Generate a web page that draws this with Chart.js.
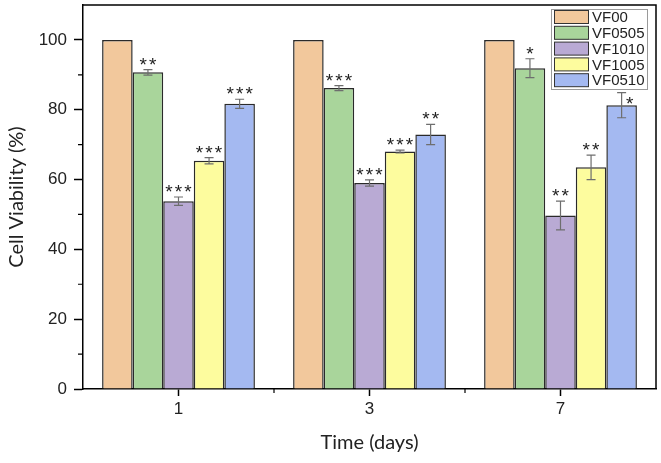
<!DOCTYPE html>
<html>
<head>
<meta charset="utf-8">
<script src="https://cdn.jsdelivr.net/npm/chart.js@4.4.1/dist/chart.umd.min.js"></script>
<style>
html,body{margin:0;padding:0;background:#fff;}
canvas{display:block;}
</style>
</head>
<body>
<canvas id="c" width="661" height="463"></canvas>
<script>
// ---- data ----
const categories = ['1', '3', '7'];
const seriesNames = ['VF00', 'VF0505', 'VF1010', 'VF1005', 'VF0510'];
const vf00   = [100, 100, 100];
const vf0505 = [90.7, 86.2, 91.9];
const vf1010 = [53.8, 59.0, 49.7];
const vf1005 = [65.4, 68.0, 63.5];
const vf0510 = [81.7, 72.9, 81.3];
const err00   = [0, 0, 0];
const err0505 = [0.8, 0.7, 2.7];
const err1010 = [1.2, 0.9, 4.1];
const err1005 = [0.9, 0.4, 3.5];
const err0510 = [1.3, 2.9, 3.6];
const stars00   = ['', '', ''];
const stars0505 = ['**', '***', '*'];
const stars1010 = ['***', '***', '**'];
const stars1005 = ['***', '***', '**'];
const stars0510 = ['***', '**', '*'];
const yTickValues = [0, 20, 40, 60, 80, 100];
const yMinorValues = [10, 30, 50, 70, 90];

const colors = ['#F2C89C', '#A9D59B', '#B9AAD4', '#FDFC9E', '#A4B9F1'];
const values = [vf00, vf0505, vf1010, vf1005, vf0510];
const errors = [err00, err0505, err1010, err1005, err0510];
const stars = [stars00, stars0505, stars1010, stars1005, stars0510];

const datasets = seriesNames.map((n, i) => ({
  label: n,
  data: values[i],
  errors: errors[i],
  stars: stars[i],
  backgroundColor: colors[i],
  borderColor: '#2a2a2a',
  borderWidth: 1.5,
  categoryPercentage: 0.8,
  barPercentage: 1.0
}));

const LEG = { x: 551, y: 9, w: 96, h: 80 };

const decorPlugin = {
  id: 'decor',
  beforeDatasetsDraw(chart) {
    const ctx = chart.ctx;
    ctx.save();
    ctx.fillStyle = '#fff';
    ctx.fillRect(LEG.x, LEG.y, LEG.w, LEG.h);
    ctx.strokeStyle = '#9a9a9a';
    ctx.lineWidth = 1;
    ctx.strokeRect(LEG.x + 0.5, LEG.y + 0.5, LEG.w, LEG.h);
    chart.data.datasets.forEach((ds, i) => {
      const cy = 17 + i * 15.8;
      ctx.fillStyle = ds.backgroundColor;
      ctx.fillRect(554, cy - 6.5, 34, 13);
      ctx.strokeStyle = '#333';
      ctx.lineWidth = 1;
      ctx.strokeRect(554.5, cy - 6.5, 34, 13);
      ctx.fillStyle = '#222';
      ctx.font = '15px "Liberation Sans", Arial, sans-serif';
      ctx.textAlign = 'left';
      ctx.textBaseline = 'middle';
      ctx.fillText(ds.label, 592, cy + 1);
    });
    ctx.restore();
  },
  afterDatasetsDraw(chart) {
    const ctx = chart.ctx;
    const y = chart.scales.y;
    ctx.save();
    chart.data.datasets.forEach((ds, di) => {
      const meta = chart.getDatasetMeta(di);
      meta.data.forEach((el, i) => {
        const v = ds.data[i], e = ds.errors[i];
        const cx = el.x;
        const yt = y.getPixelForValue(v + e);
        const yb = y.getPixelForValue(v - e);
        if (e > 0) {
          ctx.strokeStyle = '#6e6e6e';
          ctx.lineWidth = 1.2;
          ctx.beginPath();
          ctx.moveTo(cx, yt); ctx.lineTo(cx, yb);
          ctx.moveTo(cx - 4.5, yt); ctx.lineTo(cx + 4.5, yt);
          ctx.moveTo(cx - 4.5, yb); ctx.lineTo(cx + 4.5, yb);
          ctx.stroke();
        }
        const s = ds.stars[i];
        if (s) {
          ctx.fillStyle = '#222';
          ctx.font = '19px "Liberation Sans", Arial, sans-serif';
          ctx.textAlign = 'center';
          ctx.textBaseline = 'alphabetic';
          const n = s.length;
          let bx = cx, by = yt + 1;
          // avoid the legend box: put the marks beside the error bar
          if (by - 14 < LEG.y + LEG.h && cx > LEG.x && cx < LEG.x + LEG.w) {
            bx = cx + 8 + (n - 1) * 4.75;
            by = yt + 17;
          }
          for (let k = 0; k < n; k++) {
            ctx.fillText('*', bx + (k - (n - 1) / 2) * 9.5, by);
          }
        }
      });
    });
    ctx.restore();
  },
  afterDraw(chart) {
    const ctx = chart.ctx;
    const y = chart.scales.y;
    const x = chart.scales.x;
    const ca = chart.chartArea;
    ctx.save();
    ctx.strokeStyle = '#000';
    ctx.lineWidth = 1.5;
    ctx.beginPath();
    ctx.moveTo(ca.left, ca.top); ctx.lineTo(ca.right, ca.top); ctx.lineTo(ca.right, ca.bottom);
    ctx.stroke();
    ctx.lineWidth = 1.2;
    ctx.beginPath();
    yMinorValues.forEach(v => {
      const py = y.getPixelForValue(v);
      ctx.moveTo(ca.left, py); ctx.lineTo(ca.left - 5, py);
    });
    const step = (x.getPixelForValue(1) - x.getPixelForValue(0));
    for (let i = 0; i < categories.length - 1; i++) {
      const px = x.getPixelForValue(i) + step / 2;
      ctx.moveTo(px, ca.bottom); ctx.lineTo(px, ca.bottom + 4);
    }
    ctx.stroke();
    ctx.restore();
  }
};

Chart.defaults.color = '#222';
new Chart(document.getElementById('c'), {
  type: 'bar',
  data: { labels: categories, datasets },
  options: {
    responsive: false,
    animation: false,
    layout: { padding: { top: 5, right: 5, left: 0, bottom: 0 } },
    plugins: { legend: { display: false }, tooltip: { enabled: false } },
    scales: {
      x: {
        grid: { drawOnChartArea: false, offset: false, tickLength: 7, color: '#000', tickColor: '#000', tickWidth: 1.5 },
        border: { display: true, color: '#000', width: 1.5 },
        ticks: { padding: 3, font: { size: 17, family: '"Liberation Sans", Arial, sans-serif' }, color: '#222' },
        title: { display: true, text: 'Time (days)', font: { size: 20, family: 'Lato, "Open Sans", sans-serif' }, color: '#222', padding: { top: 0, bottom: 8 } },
        afterFit(s) { s.height = 74; s.paddingLeft = 0; s.paddingRight = 0; }
      },
      y: {
        min: 0, max: 110,
        afterBuildTicks(s) { s.ticks = yTickValues.map(v => ({ value: v })); },
        grid: { drawOnChartArea: false, tickLength: 9, color: '#000', tickColor: '#000', tickWidth: 1.5 },
        border: { display: true, color: '#000', width: 1.5 },
        ticks: { padding: 7, font: { size: 17, family: '"Liberation Sans", Arial, sans-serif' }, color: '#222' },
        title: { display: true, text: 'Cell Viability (%)', font: { size: 20, family: 'Lato, "Open Sans", sans-serif' }, color: '#222', padding: { top: 5, bottom: 0 } },
        afterFit(s) { s.width = 83; s.paddingTop = 0; s.paddingBottom = 0; }
      }
    }
  },
  plugins: [decorPlugin]
});
</script>
</body>
</html>
